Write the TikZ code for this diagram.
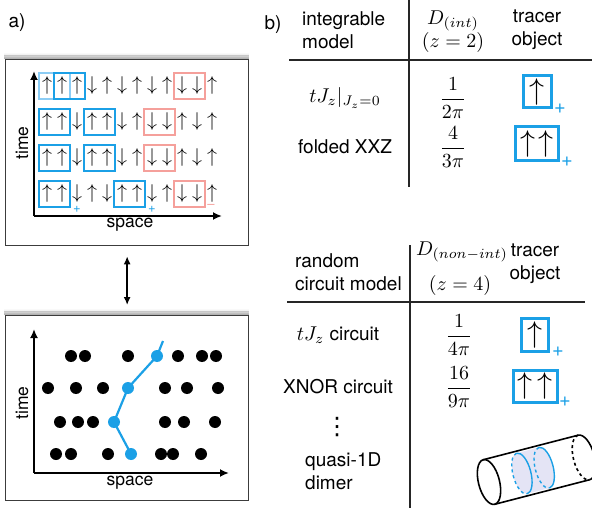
\documentclass[tikz,border=0pt]{standalone}
\usepackage{fontspec}
\setmainfont{TeX Gyre Heros}
\newfontfamily\dejavu{DejaVu Sans}
\usetikzlibrary{arrows.meta}
\definecolor{tblue}{RGB}{27,160,230}
\definecolor{tpink}{RGB}{245,160,155}
\definecolor{tfade}{RGB}{140,205,245}
\definecolor{tlav}{RGB}{228,228,245}
\definecolor{framec}{RGB}{60,60,60}
\newcommand{\mymath}[2][2]{\scalebox{#1}{\fontsize{10}{12}\selectfont$#2$}}
\begin{document}
\begin{tikzpicture}[x=1pt,y=-1pt,
  spin/.style={inner sep=0pt},
  lbl/.style={inner sep=0pt, font=\fontsize{17.5}{20}\selectfont},
  txt/.style={inner sep=0pt, font=\fontsize{19}{23}\selectfont},
  mth/.style={inner sep=0pt},
  bbox/.style={draw=tblue, line width=2.2pt},
  fbox/.style={draw=tfade, line width=2.2pt},
  pbox/.style={draw=tpink, line width=2.2pt},
  panel/.style={draw=framec, line width=1.3pt, fill=white, inner sep=0pt},
  axisarrow/.style={line width=1.8pt, -{Latex[length=9pt,width=8pt]}},
  dot/.style={circle, fill=black, minimum size=12pt, inner sep=0pt},
  bdot/.style={dot, fill=tblue},
  tbox/.style={draw=tblue, line width=3pt},
  rulel/.style={line width=1.1pt, draw=black!85},
  cyl/.style={line width=1.6pt},
  slice/.style={draw=tblue, line width=1.4pt},
  plus/.style={inner sep=0pt, text=tblue},
]
\useasboundingbox (0,0) rectangle (592,508);
% ---------- panel a ----------
\node[txt] (la) at (17,23) {a)};
\foreach \k/\o in {0.8/0.3,1.6/0.25,2.4/0.19,3.2/0.14,4/0.09,4.8/0.05,5.6/0.025}{
  \draw[black, opacity=\o, line width=0.9pt] (4,59-\k) -- (249,59-\k);
  \draw[black, opacity=\o, line width=0.9pt] (4,315-\k) -- (249,315-\k);
}
\node[panel, minimum width=243pt, minimum height=186pt, anchor=north west] (pa) at (5,59) {};
\node[panel, minimum width=243pt, minimum height=185pt, anchor=north west] (pb) at (5,315) {};
\draw[line width=1.5pt, {Latex[length=8pt,width=7pt]}-{Latex[length=8pt,width=7pt]}, shorten <=10pt, shorten >=10pt] (pa.south) -- (pb.north);

% boxes top panel
\draw[fbox] (39,73) rectangle (70,99);
\draw[bbox] (54,73) rectangle (85,99);
\draw[pbox] (174,73) rectangle (205,99);
\foreach \y in {109,145}{
  \draw[bbox] (39,\y) rectangle (70,\y+26);
  \draw[bbox] (84,\y) rectangle (115,\y+26);
  \draw[pbox] (144,\y) rectangle (175,\y+26);
}
\draw[bbox] (39,181) rectangle (70,207);
\draw[bbox] (114,181) rectangle (145,207);
\draw[pbox] (174,181) rectangle (205,207);

% spins
\foreach \s [count=\i] in {\uparrow,\uparrow,\uparrow,\downarrow,\uparrow,\downarrow,\uparrow,\downarrow,\uparrow,\downarrow,\downarrow,\uparrow}
  \node[spin] (ra\i) at ({47+15*(\i-1)},86) {\mymath{\s}};
\foreach \s [count=\i] in {\uparrow,\uparrow,\downarrow,\uparrow,\uparrow,\downarrow,\uparrow,\downarrow,\downarrow,\uparrow,\downarrow,\uparrow}
  \node[spin] (rb\i) at ({47+15*(\i-1)},122) {\mymath{\s}};
\foreach \s [count=\i] in {\uparrow,\uparrow,\downarrow,\uparrow,\uparrow,\downarrow,\uparrow,\downarrow,\downarrow,\uparrow,\downarrow,\uparrow}
  \node[spin] (rc\i) at ({47+15*(\i-1)},158) {\mymath{\s}};
\foreach \s [count=\i] in {\uparrow,\uparrow,\downarrow,\uparrow,\downarrow,\uparrow,\uparrow,\downarrow,\uparrow,\downarrow,\downarrow,\uparrow}
  \node[spin] (rd\i) at ({47+15*(\i-1)},194) {\mymath{\s}};
\node[plus, font=\fontsize{13}{13}\selectfont] (pl1) at (77,209) {+};
\node[plus, font=\fontsize{13}{13}\selectfont] (pl2) at (152,209) {+};
\node[inner sep=0pt, text=tpink, font=\fontsize{13}{13}\selectfont] (mi1) at (211,206) {–};

% axes top
\coordinate (oa) at (34,216);
\coordinate (ta) at (34,71);
\coordinate (sa) at (222,216);
\draw[axisarrow] (oa) -- (ta);
\draw[axisarrow] (oa) -- (sa);
\node[lbl] (spa) at (130,225) {space};
\node[lbl, rotate=90] (tia) at (22,143) {time};

% ---------- bottom panel ----------
\coordinate (ob) at (34,473);
\coordinate (tb) at (34,329);
\coordinate (sb) at (229,473);
\draw[axisarrow] (ob) -- (tb);
\draw[axisarrow] (ob) -- (sb);
\node[lbl] (spb) at (130,483) {space};
\node[lbl, rotate=90] (tib) at (22,403) {time};
\foreach \x [count=\i] in {71,85,128,178,202,216} \node[dot] (da\i) at (\x,356) {};
\foreach \x [count=\i] in {48,76,103,165,187,218} \node[dot] (db\i) at (\x,388) {};
\foreach \x [count=\i] in {60,78,93,165,184,215} \node[dot] (dc\i) at (\x,422) {};
\foreach \x [count=\i] in {56,71,108,161,173,201} \node[dot] (dd\i) at (\x,454) {};
\node[bdot] (b1) at (131,454) {};
\node[bdot] (b2) at (114,422) {};
\node[bdot] (b3) at (128,388) {};
\node[bdot] (b4) at (157,356) {};
\coordinate (b5) at (163,341);
\draw[tblue, line width=2.2pt] (b1.center) -- (b2.center) -- (b3.center) -- (b4.center) -- (b5);

% ---------- table b (top) ----------
\node[txt] (lb) at (273,25) {b)};
\coordinate (v1t) at (409,0);
\coordinate (v1b) at (409,187);
\coordinate (h1l) at (289,60);
\coordinate (h1r) at (592,60);
\draw[rulel] (v1t) -- (v1b);
\draw[rulel] (h1l) -- (h1r);
\node[txt, align=left, anchor=west] (h1a) at (302,30) {integrable\\model};
\node[mth] (h1b) at (453,21) {\mymath{D_{(int)}}};
\node[mth] (h1c) at (453,43) {\mymath{(z=2)}};
\node[txt, align=center] (h1d) at (537,30) {tracer\\object};
\node[mth] (r1a) at (345,98) {\mymath{tJ_z|_{J_z=0}}};
\node[mth] (r1b) at (453,98) {\mymath{\displaystyle\frac{1}{2\pi}}};
\node[txt] (r2a) at (345,147) {folded XXZ};
\node[mth] (r2b) at (453,147) {\mymath{\displaystyle\frac{4}{3\pi}}};
\node[tbox, minimum width=28pt, minimum height=32pt, inner sep=0pt] (t1) at (537,92) {};
\node[spin] (t1s) at (t1.center) {\mymath[3]{\uparrow}};
\node[plus, font=\fontsize{20}{20}\selectfont] (t1p) at (560,109) {+};
\node[tbox, minimum width=43pt, minimum height=34pt, inner sep=0pt] (t2) at (536.5,144) {};
\node[spin] (t2s) at ([xshift=-9pt]t2.center) {\mymath[3]{\uparrow}};
\node[spin] (t2r) at ([xshift=9pt]t2.center) {\mymath[3]{\uparrow}};
\node[plus, font=\fontsize{20}{20}\selectfont] (t2p) at (567,162) {+};

% ---------- table b (bottom) ----------
\coordinate (v2t) at (410,245);
\coordinate (v2b) at (410,508);
\coordinate (h2l) at (287,302);
\coordinate (h2r) at (585,302);
\draw[rulel] (v2t) -- (v2b);
\draw[rulel] (h2l) -- (h2r);
\node[txt, align=left, anchor=west] (h2a) at (295,272) {random\\circuit model};
\node[mth] (h2b) at (462,252) {\mymath{D_{(non-int)}}};
\node[mth] (h2c) at (460,285) {\mymath{(z=4)}};
\node[txt, align=center] (h2d) at (535,264) {tracer\\object};
\node[txt] (r3a) at (338,335) {\mymath{tJ_z} circuit};
\node[mth] (r3b) at (459,335) {\mymath{\displaystyle\frac{1}{4\pi}}};
\node[txt] (r4a) at (338,387) {XNOR circuit};
\node[mth] (r4b) at (459,387) {\mymath{\displaystyle\frac{16}{9\pi}}};
\node[inner sep=0pt, font=\dejavu\fontsize{24}{24}\selectfont] (r5a) at (337,427) {⋮};
\node[txt, align=left, anchor=west] (r6a) at (305,471) {quasi-1D\\dimer};
\node[tbox, minimum width=27pt, minimum height=33pt, inner sep=0pt] (t3) at (534.5,334.5) {};
\node[spin] (t3s) at (t3.center) {\mymath[3]{\uparrow}};
\node[plus, font=\fontsize{20}{20}\selectfont] (t3p) at (558,352) {+};
\node[tbox, minimum width=44pt, minimum height=32pt, inner sep=0pt] (t4) at (535,386) {};
\node[spin] (t4s) at ([xshift=-10pt]t4.center) {\mymath[3]{\uparrow}};
\node[spin] (t4r) at ([xshift=10pt]t4.center) {\mymath[3]{\uparrow}};
\node[plus, font=\fontsize{20}{20}\selectfont] (t4p) at (565,402) {+};

% cylinder
\begin{scope}[shift={(489,482)}, rotate=14.5, y=1pt]
  \fill[tlav] (34,21) arc[start angle=90, end angle=270, x radius=9pt, y radius=21pt]
     -- (57,-21) arc[start angle=-90, end angle=90, x radius=9pt, y radius=21pt] -- cycle;
  \draw[slice, dashed] (34,21) arc[start angle=90, end angle=270, x radius=9pt, y radius=21pt];
  \draw[slice] (34,21) arc[start angle=90, end angle=-90, x radius=9pt, y radius=21pt];
  \draw[slice, dashed] (57,21) arc[start angle=90, end angle=270, x radius=9pt, y radius=21pt];
  \draw[slice] (57,21) arc[start angle=90, end angle=-90, x radius=9pt, y radius=21pt];
  \draw[cyl] (0,0) ellipse [x radius=10.5pt, y radius=23pt];
  \draw[cyl] (0,23) -- (98,23);
  \draw[cyl] (0,-23) -- (98,-23);
  \draw[cyl] (98,23) arc[start angle=90, end angle=-90, x radius=10.5pt, y radius=23pt];
  \draw[cyl, dashed] (98,23) arc[start angle=90, end angle=270, x radius=10.5pt, y radius=23pt];
\end{scope}
\end{tikzpicture}
\end{document}
